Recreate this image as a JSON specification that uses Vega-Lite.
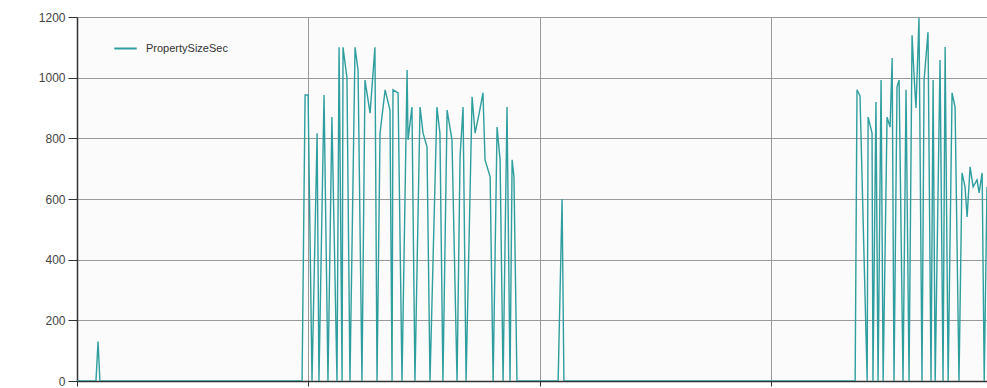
{
  "$schema": "https://vega.github.io/schema/vega-lite/v6.json",
  "width": 910,
  "height": 364,
  "autosize": {"type": "none"},
  "padding": {"left": 77, "top": 17, "right": 0, "bottom": 7},
  "background": "#ffffff",
  "config": {
    "view": {"stroke": null, "fill": "#fbfbfb"},
    "font": "Liberation Sans"
  },
  "data": {
    "values": [
      {"t": 0, "v": 0, "s": "PropertySizeSec"},
      {"t": 8.2, "v": 0, "s": "PropertySizeSec"},
      {"t": 9.1, "v": 130, "s": "PropertySizeSec"},
      {"t": 9.9, "v": 0, "s": "PropertySizeSec"},
      {"t": 97.3, "v": 0, "s": "PropertySizeSec"},
      {"t": 98.6, "v": 943, "s": "PropertySizeSec"},
      {"t": 99.9, "v": 943, "s": "PropertySizeSec"},
      {"t": 101.6, "v": 0, "s": "PropertySizeSec"},
      {"t": 103.8, "v": 817, "s": "PropertySizeSec"},
      {"t": 104.6, "v": 0, "s": "PropertySizeSec"},
      {"t": 106.8, "v": 943, "s": "PropertySizeSec"},
      {"t": 108.5, "v": 0, "s": "PropertySizeSec"},
      {"t": 110.2, "v": 870, "s": "PropertySizeSec"},
      {"t": 112.4, "v": 0, "s": "PropertySizeSec"},
      {"t": 113.3, "v": 1100, "s": "PropertySizeSec"},
      {"t": 114.6, "v": 0, "s": "PropertySizeSec"},
      {"t": 115.0, "v": 1100, "s": "PropertySizeSec"},
      {"t": 116.7, "v": 1000, "s": "PropertySizeSec"},
      {"t": 118.0, "v": 0, "s": "PropertySizeSec"},
      {"t": 120.2, "v": 1100, "s": "PropertySizeSec"},
      {"t": 121.5, "v": 1025, "s": "PropertySizeSec"},
      {"t": 123.2, "v": 0, "s": "PropertySizeSec"},
      {"t": 124.5, "v": 992, "s": "PropertySizeSec"},
      {"t": 126.7, "v": 883, "s": "PropertySizeSec"},
      {"t": 128.8, "v": 1100, "s": "PropertySizeSec"},
      {"t": 129.7, "v": 0, "s": "PropertySizeSec"},
      {"t": 131.0, "v": 817, "s": "PropertySizeSec"},
      {"t": 133.2, "v": 960, "s": "PropertySizeSec"},
      {"t": 135.3, "v": 893, "s": "PropertySizeSec"},
      {"t": 136.2, "v": 0, "s": "PropertySizeSec"},
      {"t": 136.6, "v": 960, "s": "PropertySizeSec"},
      {"t": 138.8, "v": 950, "s": "PropertySizeSec"},
      {"t": 140.5, "v": 0, "s": "PropertySizeSec"},
      {"t": 142.7, "v": 1025, "s": "PropertySizeSec"},
      {"t": 143.1, "v": 795, "s": "PropertySizeSec"},
      {"t": 144.8, "v": 903, "s": "PropertySizeSec"},
      {"t": 146.1, "v": 0, "s": "PropertySizeSec"},
      {"t": 148.3, "v": 903, "s": "PropertySizeSec"},
      {"t": 149.6, "v": 817, "s": "PropertySizeSec"},
      {"t": 151.3, "v": 772, "s": "PropertySizeSec"},
      {"t": 152.6, "v": 0, "s": "PropertySizeSec"},
      {"t": 155.6, "v": 903, "s": "PropertySizeSec"},
      {"t": 156.9, "v": 817, "s": "PropertySizeSec"},
      {"t": 158.2, "v": 0, "s": "PropertySizeSec"},
      {"t": 160.0, "v": 893, "s": "PropertySizeSec"},
      {"t": 162.1, "v": 795, "s": "PropertySizeSec"},
      {"t": 164.3, "v": 0, "s": "PropertySizeSec"},
      {"t": 165.6, "v": 739, "s": "PropertySizeSec"},
      {"t": 166.9, "v": 903, "s": "PropertySizeSec"},
      {"t": 168.2, "v": 0, "s": "PropertySizeSec"},
      {"t": 170.8, "v": 937, "s": "PropertySizeSec"},
      {"t": 172.1, "v": 817, "s": "PropertySizeSec"},
      {"t": 173.8, "v": 880, "s": "PropertySizeSec"},
      {"t": 175.5, "v": 950, "s": "PropertySizeSec"},
      {"t": 176.4, "v": 729, "s": "PropertySizeSec"},
      {"t": 178.6, "v": 673, "s": "PropertySizeSec"},
      {"t": 179.9, "v": 0, "s": "PropertySizeSec"},
      {"t": 181.6, "v": 837, "s": "PropertySizeSec"},
      {"t": 182.9, "v": 729, "s": "PropertySizeSec"},
      {"t": 184.2, "v": 0, "s": "PropertySizeSec"},
      {"t": 185.9, "v": 903, "s": "PropertySizeSec"},
      {"t": 187.2, "v": 0, "s": "PropertySizeSec"},
      {"t": 188.1, "v": 729, "s": "PropertySizeSec"},
      {"t": 188.9, "v": 673, "s": "PropertySizeSec"},
      {"t": 190.2, "v": 0, "s": "PropertySizeSec"},
      {"t": 208.0, "v": 0, "s": "PropertySizeSec"},
      {"t": 209.7, "v": 600, "s": "PropertySizeSec"},
      {"t": 210.5, "v": 0, "s": "PropertySizeSec"},
      {"t": 336.4, "v": 0, "s": "PropertySizeSec"},
      {"t": 337.2, "v": 960, "s": "PropertySizeSec"},
      {"t": 338.5, "v": 940, "s": "PropertySizeSec"},
      {"t": 341.6, "v": 0, "s": "PropertySizeSec"},
      {"t": 342.0, "v": 870, "s": "PropertySizeSec"},
      {"t": 343.7, "v": 817, "s": "PropertySizeSec"},
      {"t": 344.1, "v": 0, "s": "PropertySizeSec"},
      {"t": 345.4, "v": 920, "s": "PropertySizeSec"},
      {"t": 346.3, "v": 0, "s": "PropertySizeSec"},
      {"t": 347.6, "v": 992, "s": "PropertySizeSec"},
      {"t": 348.5, "v": 0, "s": "PropertySizeSec"},
      {"t": 350.2, "v": 870, "s": "PropertySizeSec"},
      {"t": 351.5, "v": 837, "s": "PropertySizeSec"},
      {"t": 352.4, "v": 1065, "s": "PropertySizeSec"},
      {"t": 353.2, "v": 0, "s": "PropertySizeSec"},
      {"t": 354.5, "v": 970, "s": "PropertySizeSec"},
      {"t": 355.4, "v": 992, "s": "PropertySizeSec"},
      {"t": 357.1, "v": 0, "s": "PropertySizeSec"},
      {"t": 358.4, "v": 960, "s": "PropertySizeSec"},
      {"t": 359.7, "v": 0, "s": "PropertySizeSec"},
      {"t": 361.0, "v": 1140, "s": "PropertySizeSec"},
      {"t": 361.9, "v": 1003, "s": "PropertySizeSec"},
      {"t": 362.7, "v": 900, "s": "PropertySizeSec"},
      {"t": 364.0, "v": 1197, "s": "PropertySizeSec"},
      {"t": 365.3, "v": 0, "s": "PropertySizeSec"},
      {"t": 366.2, "v": 992, "s": "PropertySizeSec"},
      {"t": 367.9, "v": 1150, "s": "PropertySizeSec"},
      {"t": 369.2, "v": 0, "s": "PropertySizeSec"},
      {"t": 370.1, "v": 992, "s": "PropertySizeSec"},
      {"t": 371.0, "v": 0, "s": "PropertySizeSec"},
      {"t": 373.1, "v": 1058, "s": "PropertySizeSec"},
      {"t": 374.4, "v": 0, "s": "PropertySizeSec"},
      {"t": 375.3, "v": 1101, "s": "PropertySizeSec"},
      {"t": 376.6, "v": 0, "s": "PropertySizeSec"},
      {"t": 378.3, "v": 950, "s": "PropertySizeSec"},
      {"t": 379.6, "v": 903, "s": "PropertySizeSec"},
      {"t": 381.3, "v": 0, "s": "PropertySizeSec"},
      {"t": 382.6, "v": 686, "s": "PropertySizeSec"},
      {"t": 383.9, "v": 640, "s": "PropertySizeSec"},
      {"t": 384.8, "v": 541, "s": "PropertySizeSec"},
      {"t": 386.1, "v": 706, "s": "PropertySizeSec"},
      {"t": 387.4, "v": 640, "s": "PropertySizeSec"},
      {"t": 389.1, "v": 663, "s": "PropertySizeSec"},
      {"t": 390.0, "v": 620, "s": "PropertySizeSec"},
      {"t": 391.3, "v": 686, "s": "PropertySizeSec"},
      {"t": 392.2, "v": 0, "s": "PropertySizeSec"},
      {"t": 393.4, "v": 640, "s": "PropertySizeSec"}
    ]
  },
  "mark": {"type": "line", "strokeWidth": 1.4, "clip": true, "interpolate": "linear"},
  "encoding": {
    "x": {
      "field": "t",
      "type": "quantitative",
      "scale": {"domain": [0, 393.4], "nice": false, "zero": false},
      "axis": {
        "title": null,
        "labels": false,
        "values": [0, 100, 200, 300],
        "grid": true,
        "gridColor": "#9a9a9a",
        "gridWidth": 1,
        "gridOpacity": 1,
        "domainColor": "#333333",
        "domainWidth": 1.5,
        "tickColor": "#333333",
        "tickSize": 5
      }
    },
    "y": {
      "field": "v",
      "type": "quantitative",
      "scale": {"domain": [0, 1200], "nice": false},
      "axis": {
        "title": null,
        "values": [0, 200, 400, 600, 800, 1000, 1200],
        "format": "d",
        "grid": true,
        "gridColor": "#9a9a9a",
        "gridWidth": 1,
        "gridOpacity": 1,
        "domainColor": "#333333",
        "domainWidth": 1.5,
        "tickColor": "#333333",
        "tickSize": 9,
        "labelFontSize": 12,
        "labelColor": "#444444",
        "labelPadding": 3
      }
    },
    "color": {
      "field": "s",
      "type": "nominal",
      "scale": {"range": ["#2f9e9e"]},
      "legend": {
        "title": null,
        "orient": "none",
        "legendX": 36,
        "legendY": 19,
        "symbolType": "stroke",
        "symbolSize": 500,
        "symbolStrokeWidth": 2,
        "labelFontSize": 11,
        "labelColor": "#333333",
        "labelOffset": 8
      }
    }
  }
}
